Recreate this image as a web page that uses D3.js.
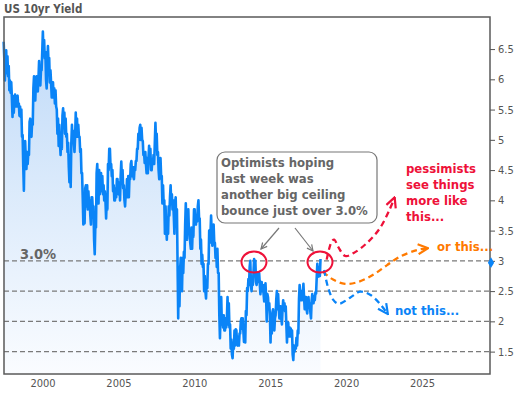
<!DOCTYPE html>
<html><head><meta charset="utf-8">
<script src="https://cdn.jsdelivr.net/npm/d3@7"></script>
<style>
body{margin:0;background:#fff}
svg{display:block}
text{font-family:'DejaVu Sans Condensed','DejaVu Sans',sans-serif;font-stretch:condensed}
</style>
</head><body><svg id="c" width="523" height="393"></svg>
<script>
// ---- DATA ----
const title = "US 10yr Yield";
const startMonth = 1997 + 5/12; // June 1997
// monthly high / low of the 10yr yield (%), June 1997 .. April 2018
const yieldHigh = [
 6.62,6.45,6.48,6.38,6.22,5.98,5.95,
 5.72,5.65,5.75,5.72,5.73,5.60,5.55,5.50,5.08,4.90,4.98,4.80,
 4.80,5.30,5.35,5.30,5.85,6.05,5.95,6.05,6.00,6.30,6.15,6.45,
 6.79,6.65,6.45,6.20,6.55,6.35,6.15,5.95,5.95,5.85,5.82,5.50,
 5.35,5.25,5.00,5.40,5.52,5.45,5.35,5.10,4.95,4.75,4.95,5.25,
 5.15,5.05,5.45,5.35,5.25,5.05,4.85,4.45,4.10,4.20,4.25,4.25,
 4.15,4.00,4.05,4.05,3.90,3.60,4.45,4.60,4.50,4.40,4.45,4.40,
 4.25,4.15,4.00,4.60,4.85,4.85,4.60,4.50,4.25,4.20,4.35,4.35,
 4.30,4.40,4.64,4.50,4.25,4.12,4.35,4.40,4.40,4.60,4.65,4.55,
 4.55,4.65,4.85,5.10,5.20,5.25,5.20,4.98,4.80,4.80,4.70,4.70,
 4.90,4.85,4.65,4.75,4.95,5.28,5.10,4.80,4.65,4.70,4.40,4.25,
 4.00,3.90,3.70,3.90,4.05,4.25,4.10,4.00,3.95,4.05,3.85,2.90,
 2.85,3.05,3.05,3.15,3.60,3.95,3.70,3.85,3.50,3.55,3.55,3.85,
 3.85,3.75,3.90,4.00,3.70,3.35,3.10,2.95,2.75,2.65,2.95,3.50,
 3.45,3.75,3.55,3.60,3.30,3.20,3.20,2.80,2.10,2.40,2.10,2.10,
 2.05,2.05,2.40,2.30,1.95,1.70,1.65,1.85,1.87,1.85,1.75,1.80,
 2.00,2.05,2.05,1.85,2.17,2.55,2.70,2.90,3.00,2.70,2.80,3.03,
 3.00,2.80,2.80,2.80,2.65,2.65,2.60,2.50,2.63,2.45,2.40,2.30,
 2.10,2.15,2.20,2.05,2.35,2.50,2.45,2.25,2.25,2.20,2.35,2.30,
 2.25,1.95,1.98,1.90,1.88,1.85,1.60,1.60,1.73,1.85,2.37,2.60,
 2.50,2.50,2.62,2.40,2.40,2.30,2.40,2.30,2.35,2.45,2.42,2.48,
 2.72,2.95,2.90,3.03
];
const yieldLow = [
 6.35,5.98,6.10,6.05,5.82,5.78,5.70,
 5.38,5.45,5.55,5.55,5.55,5.40,5.38,5.05,4.55,4.16,4.70,4.52,
 4.60,4.75,5.10,5.05,5.25,5.75,5.65,5.85,5.80,5.95,5.90,6.15,
 6.45,6.35,6.00,5.85,6.25,5.95,5.95,5.70,5.70,5.60,5.55,5.10,
 4.90,4.95,4.75,4.85,5.25,5.10,5.05,4.80,4.55,4.30,4.22,4.95,
 4.95,4.80,5.05,5.05,5.05,4.80,4.45,4.05,3.60,3.62,3.90,3.85,
 3.92,3.75,3.60,3.85,3.35,3.11,3.55,4.20,3.95,4.10,4.15,4.10,
 4.00,3.98,3.70,3.85,4.50,4.55,4.40,4.15,4.00,4.00,4.05,4.12,
 4.10,4.00,4.35,4.20,4.00,3.90,4.05,4.05,4.05,4.35,4.40,4.40,
 4.35,4.50,4.65,4.85,5.00,5.00,5.00,4.75,4.62,4.60,4.45,4.45,
 4.65,4.50,4.50,4.60,4.60,4.95,4.75,4.50,4.35,4.40,3.95,3.95,
 3.45,3.55,3.35,3.45,3.75,3.95,3.85,3.75,3.45,3.60,2.95,2.05,
 2.25,2.70,2.50,2.80,3.05,3.50,3.35,3.45,3.30,3.20,3.20,3.40,
 3.60,3.60,3.65,3.70,3.20,2.95,2.90,2.50,2.50,2.38,2.55,2.95,
 3.30,3.45,3.25,3.30,3.05,2.90,2.80,2.10,1.72,1.95,1.90,1.85,
 1.85,1.90,1.95,1.90,1.55,1.45,1.39,1.55,1.60,1.65,1.60,1.60,
 1.80,1.88,1.85,1.66,1.65,2.10,2.50,2.60,2.60,2.50,2.60,2.80,
 2.65,2.60,2.65,2.62,2.45,2.50,2.45,2.33,2.40,2.00,2.20,2.10,
 1.65,1.80,1.90,1.85,2.10,2.20,2.20,2.05,2.05,1.95,2.20,2.17,
 1.95,1.65,1.75,1.75,1.75,1.45,1.36,1.50,1.55,1.60,1.80,2.35,
 2.35,2.35,2.40,2.20,2.20,2.13,2.25,2.15,2.05,2.30,2.30,2.35,
 2.46,2.75,2.74,2.75
];
const yTicks = [1.5,2,2.5,3,3.5,4,4.5,5,5.5,6,6.5];
const xTicks = [2000,2005,2010,2015,2020,2025];
const gridLevels = [3,2.5,2,1.5];
const ceilingLevel = 3.0;
const ceilingLabel = "3.0%";
// scenario paths [year, yield]
const pessimistPath = [[2018.72,3.02],[2019.05,3.32],[2019.22,3.35],[2019.48,3.23],[2019.95,3.08],[2020.5,3.13],[2021.35,3.29],[2022.2,3.53],[2022.85,3.84],[2023.2,4.05]];
const middlePath = [[2018.48,2.82],[2019.14,2.69],[2019.93,2.62],[2020.78,2.65],[2021.78,2.77],[2022.7,2.93],[2023.56,3.07],[2024.68,3.18],[2025.4,3.21]];
const optimistPath = [[2018.55,2.85],[2018.8,2.57],[2019.14,2.36],[2019.5,2.29],[2020.26,2.39],[2020.92,2.49],[2021.58,2.44],[2022.23,2.29],[2022.75,2.12]];
const ceilingHits = [[2013.93,2.98],[2018.28,2.98]];
const noteLines = ["Optimists hoping","last week was","another big ceiling","bounce just over 3.0%"];
const pessLines = ["pessimists","see things","more like","this..."];
const midLabel = "or this...";
const optLabel = "not this...";

// ---- CHART ----
const svg = d3.select("#c");
const L=4, R=490, T=17, B=374;
const x = d3.scaleLinear().domain([1997.46,2029.48]).range([L,R]);
const y = d3.scaleLinear().domain([1.13,7.03]).range([B,T]);

const series = [];
yieldHigh.forEach((h,i)=>{
  const lo = yieldLow[i];
  const t = startMonth + i/12;
  const mid = (h+lo)/2;
  const nxt = i+1<yieldHigh.length ? (yieldHigh[i+1]+yieldLow[i+1])/2 : mid+1;
  if(nxt>=mid){ series.push([t+0.25/12,lo]); series.push([t+0.75/12,h]); }
  else { series.push([t+0.25/12,h]); series.push([t+0.75/12,lo]); }
});

const defs = svg.append("defs");
const g = defs.append("linearGradient").attr("id","fillg").attr("gradientUnits","userSpaceOnUse")
  .attr("x1",0).attr("x2",0).attr("y1",T).attr("y2",B);
g.append("stop").attr("offset",0).attr("stop-color","#bcd8f8");
g.append("stop").attr("offset",0.45).attr("stop-color","#d9e9fb");
g.append("stop").attr("offset",1).attr("stop-color","#fafcff");

function marker(id,color,sw,w,h){
  defs.append("marker").attr("id",id).attr("markerUnits","userSpaceOnUse")
    .attr("viewBox",`0 0 ${w} ${h}`).attr("refX",w-1).attr("refY",h/2)
    .attr("markerWidth",w).attr("markerHeight",h).attr("orient","auto")
    .append("path").attr("d",`M1,1 L${w-1},${h/2} L1,${h-1}`)
    .attr("fill","none").attr("stroke",color).attr("stroke-width",sw)
    .attr("stroke-linejoin","miter");
}
const RED="#ee1139", ORANGE="#ff7a00", BLUE="#0a84f7", GREY="#666";
marker("mr",RED,2.2,12,12);
marker("mo",ORANGE,2.2,12,12);
marker("mb",BLUE,2.2,12,12);
marker("mg","#777",1.2,8,8);

// area
svg.append("path").datum(series)
  .attr("d",d3.area().x(d=>x(d[0])).y0(B).y1(d=>y(d[1])))
  .attr("fill","url(#fillg)");

// grid
svg.selectAll("line.grid").data(gridLevels).join("line")
  .attr("x1",L).attr("x2",R).attr("y1",d=>y(d)).attr("y2",d=>y(d))
  .attr("stroke","#7a7a7a").attr("stroke-width",1.3).attr("stroke-dasharray","5,3");

// line
svg.append("path").datum(series)
  .attr("d",d3.line().x(d=>x(d[0])).y(d=>y(d[1])))
  .attr("fill","none").attr("stroke",BLUE).attr("stroke-width",2.6).attr("stroke-linejoin","round");

// frame
svg.append("rect").attr("x",L).attr("y",T).attr("width",R-L).attr("height",B-T)
  .attr("fill","none").attr("stroke","#5a5a5a").attr("stroke-width",1.5);

// right axis
const ya = d3.axisRight(y).tickValues(yTicks).tickSize(5).tickPadding(3).tickFormat(d3.format("~g"));
const yg = svg.append("g").attr("transform",`translate(${R},0)`).call(ya);
yg.select(".domain").remove();
yg.selectAll("line").attr("stroke","#555");
yg.selectAll("text").attr("fill","#555").style("font-size","11px");

// bottom axis
const xa = d3.axisBottom(x).tickValues(xTicks).tickSize(0).tickPadding(5).tickFormat(d3.format("d"));
const xg = svg.append("g").attr("transform",`translate(0,${B})`).call(xa);
xg.select(".domain").remove();
xg.selectAll("text").attr("fill","#555").style("font-size","11px");

// last value marker
const last = series[series.length-1];
svg.append("path").attr("d",d3.symbol(d3.symbolDiamond,34)())
  .attr("transform",`translate(${R+1},${y(2.97)})`).attr("fill",BLUE);

// title
svg.append("text").attr("x",4).attr("y",13).text(title)
  .attr("fill","#555").style("font-size","11.5px").style("font-weight","bold");

// ceiling label
svg.append("text").attr("x",20).attr("y",y(ceilingLevel)-2).text(ceilingLabel)
  .attr("fill","#666").style("font-size","14.5px").style("font-weight","bold");

// scenario paths
const cl = d3.line().x(d=>x(d[0])).y(d=>y(d[1])).curve(d3.curveCatmullRom);
[[pessimistPath,RED,"mr"],[middlePath,ORANGE,"mo"],[optimistPath,BLUE,"mb"]].forEach(([p,c,m])=>{
  svg.append("path").attr("d",cl(p)).attr("fill","none").attr("stroke",c)
    .attr("stroke-width",2.3).attr("stroke-dasharray","6,4").attr("marker-end",`url(#${m})`);
});

// circles
svg.selectAll("ellipse.hit").data(ceilingHits).join("ellipse")
  .attr("cx",d=>x(d[0])).attr("cy",d=>y(d[1])).attr("rx",12.5).attr("ry",10.5)
  .attr("fill","none").attr("stroke",RED).attr("stroke-width",2);

// note box
svg.append("rect").attr("x",217).attr("y",152).attr("width",160).attr("height",71).attr("rx",8)
  .attr("fill","#fff").attr("stroke","#777").attr("stroke-width",1.2);
svg.append("text").attr("fill","#666").style("font-size","13px").style("font-weight","bold")
  .selectAll("tspan").data(noteLines).join("tspan").attr("x",221).attr("y",(d,i)=>167+i*16).text(d=>d);
// note arrows
[[279,228,261,249],[295,228,313,251]].forEach(a=>{
  svg.append("line").attr("x1",a[0]).attr("y1",a[1]).attr("x2",a[2]).attr("y2",a[3])
    .attr("stroke","#777").attr("stroke-width",1.2).attr("marker-end","url(#mg)");
});

// scenario labels
svg.append("text").attr("fill",RED).style("font-size","13px").style("font-weight","bold")
  .selectAll("tspan").data(pessLines).join("tspan").attr("x",406).attr("y",(d,i)=>173+i*16).text(d=>d);
svg.append("text").attr("x",437).attr("y",251).text(midLabel).attr("fill",ORANGE)
  .style("font-size","13px").style("font-weight","bold");
svg.append("text").attr("x",395).attr("y",315).text(optLabel).attr("fill",BLUE)
  .style("font-size","13px").style("font-weight","bold");
</script>
</body></html>
